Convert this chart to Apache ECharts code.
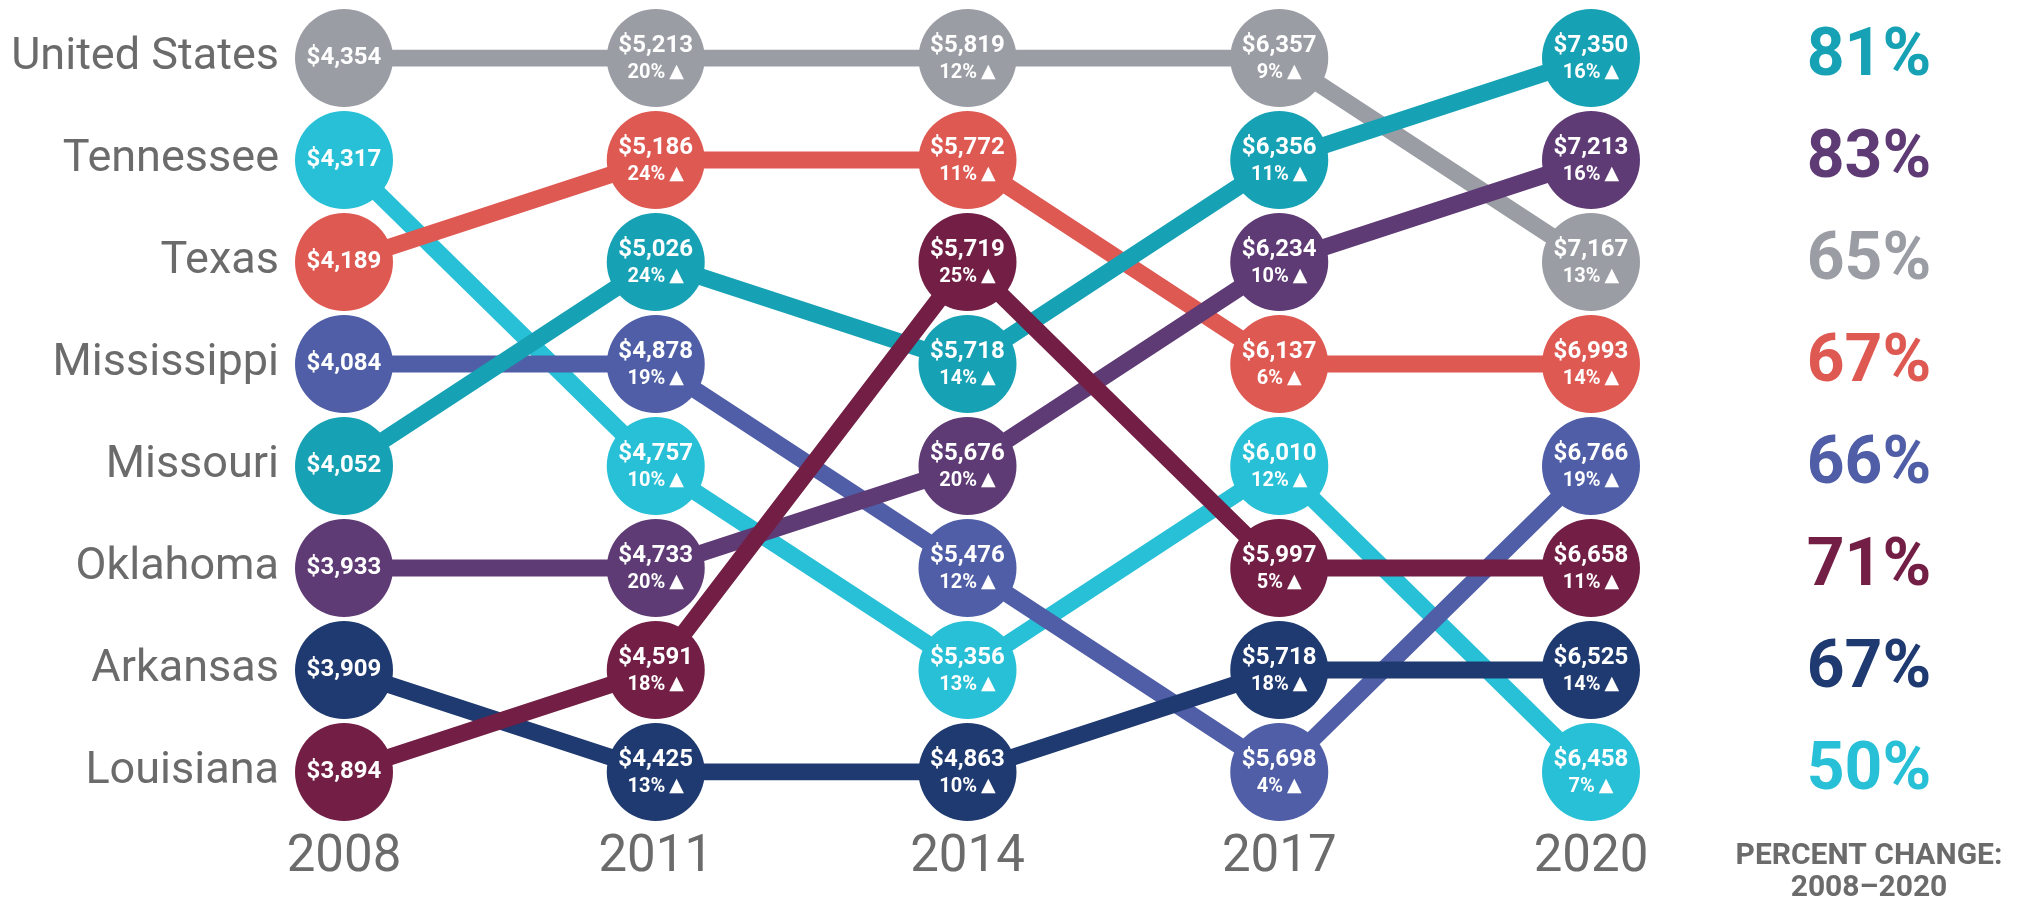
<!DOCTYPE html>
<html><head><meta charset="utf-8">
<script src="https://cdn.jsdelivr.net/npm/echarts@6/dist/echarts.min.js"></script>
<style>html,body{margin:0;padding:0;background:#fff}#c{width:2017px;height:906px}</style>
</head><body><div id="c"></div>
<script>
// ---- data ----
const years = ['2008', '2011', '2014', '2017', '2020'];
const states = ['United States', 'Tennessee', 'Texas', 'Mississippi', 'Missouri', 'Oklahoma', 'Arkansas', 'Louisiana'];
const unitedStatesValues = [4354, 5213, 5819, 6357, 7167];
const tennesseeValues    = [4317, 4757, 5356, 6010, 6458];
const texasValues        = [4189, 5186, 5772, 6137, 6993];
const mississippiValues  = [4084, 4878, 5476, 5698, 6766];
const missouriValues     = [4052, 5026, 5718, 6356, 7350];
const oklahomaValues     = [3933, 4733, 5676, 6234, 7213];
const arkansasValues     = [3909, 4425, 4863, 5718, 6525];
const louisianaValues    = [3894, 4591, 5719, 5997, 6658];
const unitedStatesChange = [null, 20, 12, 9, 13];
const tennesseeChange    = [null, 10, 13, 12, 7];
const texasChange        = [null, 24, 11, 6, 14];
const mississippiChange  = [null, 19, 12, 4, 19];
const missouriChange     = [null, 24, 14, 11, 16];
const oklahomaChange     = [null, 20, 20, 10, 16];
const arkansasChange     = [null, 13, 10, 18, 14];
const louisianaChange    = [null, 18, 25, 5, 11];
const totalChange2008to2020 = [65, 50, 67, 66, 81, 83, 67, 71];

// ---- styles ----
const colors = ['#9a9da3', '#27c0d6', '#df5953', '#4f5ea7', '#16a2b4', '#5f3b75', '#1f3a70', '#731f45'];
const FONT = 'Roboto';
const GRAY = '#6b6b6b';

const allValues = [unitedStatesValues, tennesseeValues, texasValues, mississippiValues,
  missouriValues, oklahomaValues, arkansasValues, louisianaValues];
const allChanges = [unitedStatesChange, tennesseeChange, texasChange, mississippiChange,
  missouriChange, oklahomaChange, arkansasChange, louisianaChange];

// rank per year (1 = highest spending)
const ranks = states.map(() => []);
years.forEach((y, j) => {
  const order = states.map((s, i) => i).sort((a, b) => allValues[b][j] - allValues[a][j]);
  order.forEach((i, r) => { ranks[i][j] = r + 1; });
});
const labelForRank = {};
states.forEach((s, i) => { labelForRank[ranks[i][0]] = s; });

const fmtMoney = v => '$' + v.toLocaleString('en-US');

const series = [];
states.forEach((s, i) => {
  series.push({
    type: 'line', name: s, xAxisIndex: 0, yAxisIndex: 0,
    data: years.map((y, j) => [j, ranks[i][j]]),
    showSymbol: false, silent: true, z: 2,
    lineStyle: { color: colors[i], width: 17 }
  });
});
states.forEach((s, i) => {
  series.push({
    type: 'scatter', name: s + ' pts', xAxisIndex: 0, yAxisIndex: 0,
    symbol: 'circle', symbolSize: 98, z: 3,
    itemStyle: { color: colors[i], opacity: 1 },
    data: years.map((y, j) => ({ value: [j, ranks[i][j]], money: allValues[i][j], chg: allChanges[i][j] })),
    label: {
      show: true, position: 'inside',
      formatter: p => p.data.chg == null ? '{v|' + fmtMoney(p.data.money) + '}'
        : '{v|' + fmtMoney(p.data.money) + '}\n{p|' + p.data.chg + '%\u2009}{t|\u25B2}',
      rich: {
        v: { fontFamily: FONT, fontWeight: 'bold', fontSize: 24, color: '#fff', lineHeight: 29, align: 'center' },
        p: { fontFamily: FONT, fontWeight: 'bold', fontSize: 20, color: '#fff', lineHeight: 25, align: 'center' },
        t: { fontFamily: 'DejaVu Sans', fontSize: 19, color: '#fff', lineHeight: 25, align: 'center' }
      }
    }
  });
});
states.forEach((s, i) => {
  series.push({
    type: 'scatter', name: s + ' total', xAxisIndex: 1, yAxisIndex: 1,
    symbolSize: 1, itemStyle: { color: 'rgba(0,0,0,0)', opacity: 1 }, silent: true,
    data: [[1, ranks[i][years.length - 1]]],
    label: {
      show: true, position: 'inside', formatter: totalChange2008to2020[i] + '%', opacity: 1,
      fontFamily: FONT, fontWeight: 'bold', fontSize: 66, color: colors[i]
    }
  });
});

const chart = echarts.init(document.getElementById('c'));
chart.setOption({
  animation: false,
  backgroundColor: '#fff',
  grid: [
    { left: 344, right: 426, top: 58, bottom: 134 },
    { left: 1769, width: 200, top: 58, bottom: 134 }
  ],
  xAxis: [
    {
      type: 'category', data: years, boundaryGap: false, gridIndex: 0,
      axisLine: { show: false }, axisTick: { show: false }, splitLine: { show: false },
      axisLabel: { fontFamily: FONT, fontSize: 51, color: GRAY, margin: 61, lineHeight: 51 }
    },
    { type: 'value', gridIndex: 1, min: 0, max: 2, show: false }
  ],
  yAxis: [
    {
      type: 'value', gridIndex: 0, min: 1, max: 8, interval: 1, inverse: true,
      axisLine: { show: false }, axisTick: { show: false }, splitLine: { show: false },
      axisLabel: { formatter: v => labelForRank[v] || '', fontFamily: FONT, fontSize: 45, color: GRAY, margin: 65 }
    },
    { type: 'value', gridIndex: 1, min: 1, max: 8, inverse: true, show: false }
  ],
  graphic: [
    { type: 'text', x: 1869, y: 856, style: { text: 'PERCENT CHANGE:', fill: GRAY, font: 'bold 30px Roboto', textAlign: 'center', textVerticalAlign: 'middle' } },
    { type: 'text', x: 1869, y: 888, style: { text: '2008\u20132020', fill: GRAY, font: 'bold 30px Roboto', textAlign: 'center', textVerticalAlign: 'middle' } }
  ],
  series: series
});
</script>
</body></html>
